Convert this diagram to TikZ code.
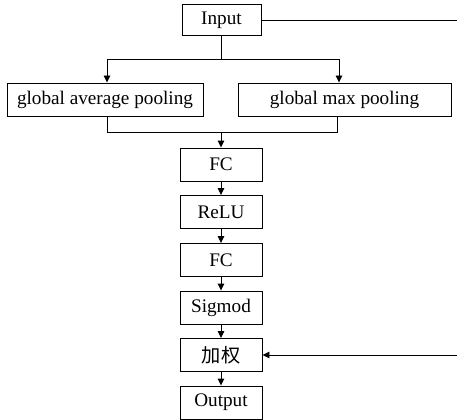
\documentclass[tikz,border=0pt]{standalone}
\usepackage{fontspec}
\setmainfont{Liberation Serif}
\newfontfamily\cjk{Noto Sans CJK SC}
\usetikzlibrary{arrows.meta}
\begin{document}
\begin{tikzpicture}[x=1pt,y=-1pt,
  line width=0.9pt,
  box/.style={draw, inner sep=0pt, minimum height=33pt,
    font=\fontsize{19.2}{22}\selectfont},
  colbox/.style={box, minimum width=82pt},
  arr/.style={-{Triangle[width=6.5pt,length=7pt]}}]
\useasboundingbox (0,0) rectangle (458,420);
% boxes
\node[box, minimum width=79pt, minimum height=31pt] (in) at (221.5,20) {Input};
\node[box, minimum width=196pt] (avg) at (105,99.5) {global average pooling};
\node[box, minimum width=213pt] (max) at (344.5,99.5) {global max pooling};
\node[colbox] (fc1) at (221,164.5) {FC};
\node[colbox] (relu) at (221,212) {ReLU};
\node[colbox] (fc2) at (221,260) {FC};
\node[colbox] (sig) at (221,307.5) {Sigmod};
\node[colbox] (jq) at (221,355) {\cjk 加权};
\node[colbox] (out) at (221,402.5) {Output};
% split into the two pooling branches
\coordinate (ta) at (107,59);
\coordinate (tm) at (339,59);
\draw (in.south) -- (in.south |- ta);
\draw (ta) -- (tm);
\draw[arr] (ta) -- (ta |- avg.north);
\draw[arr] (tm) -- (tm |- max.north);
% merge of the two branches
\coordinate (ba) at (107,132);
\coordinate (bm) at (337,132);
\draw (ba |- avg.south) -- (ba) -- (bm) -- (bm |- max.south);
\draw[arr] (fc1.north |- ba) -- (fc1.north);
% main chain
\draw[arr] (fc1) -- (relu);
\draw[arr] (relu) -- (fc2);
\draw[arr] (fc2) -- (sig);
\draw[arr] (sig) -- (jq);
\draw[arr] (jq) -- (out);
% skip connection stubs
\coordinate (r1) at (457,0);
\coordinate (r2) at (457,355);
\draw (in.east) -- (in.east -| r1);
\draw[arr] (r2) -- (jq.east);
\end{tikzpicture}
\end{document}
